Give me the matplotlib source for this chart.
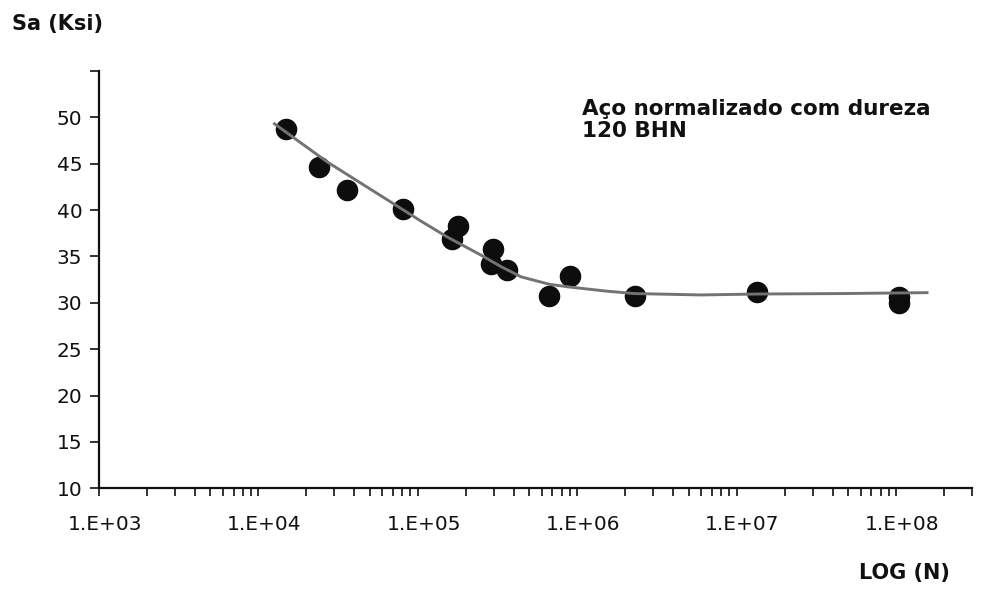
import numpy as np
import matplotlib
matplotlib.use('Agg')
import matplotlib.pyplot as plt
from matplotlib.ticker import LogLocator, FixedLocator, NullFormatter
from matplotlib.transforms import ScaledTranslation


# test points (cycles to failure, stress amplitude in ksi)
cycles = [1.49e4, 2.39e4, 3.6e4, 8.1e4, 1.63e5, 1.80e5, 2.88e5, 2.98e5,
          3.63e5, 6.7e5, 9.0e5, 2.29e6, 1.34e7, 1.04e8, 1.04e8]
sa = [48.7, 44.7, 42.15, 40.1, 36.9, 38.25, 34.2, 35.8,
      33.55, 30.75, 32.9, 30.75, 31.2, 30.6, 29.95]

# trend line
curve_n = [1.24e4, 2.7e4, 6.45e4, 1.05e5, 1.53e5, 2.49e5, 3.33e5, 4.45e5,
           6.7e5, 9.0e5, 1.55e6, 2.29e6, 6.0e6, 1.35e7, 4.6e7, 1.6e8]
curve_sa = [49.4, 45.2, 41.1, 38.8, 37.1, 35.15, 33.9, 32.8,
            32.0, 31.7, 31.25, 31.0, 30.85, 30.95, 31.0, 31.1]

x_ticks = [1e3, 1e4, 1e5, 1e6, 1e7, 1e8]
x_labels = ['1.E+03', '1.E+04', '1.E+05', '1.E+06', '1.E+07', '1.E+08']
y_ticks = [10, 15, 20, 25, 30, 35, 40, 45, 50, 55]
y_labels = ['10', '15', '20', '25', '30', '35', '40', '45', '50', '']

ink = '#111111'

fig = plt.figure(figsize=(9.87, 5.89), dpi=100)
ax = fig.add_axes([99/987, 1 - 488.3/589, 873/987, 417.3/589])

ax.plot(cycles, sa, 'o', color='#0d0d0d', markersize=14.5, zorder=2)
ax.plot(curve_n, curve_sa, '-', color='#737373', lw=2.1, zorder=3,
        solid_capstyle='butt')

ax.set_xscale('log')
ax.set_xlim(1e3, 3e8)
ax.set_ylim(10, 55)

for s in ['top', 'right']:
    ax.spines[s].set_visible(False)
for s in ['left', 'bottom']:
    ax.spines[s].set_linewidth(1.6)
    ax.spines[s].set_color(ink)

ax.xaxis.set_major_locator(FixedLocator(x_ticks))
ax.set_xticklabels(x_labels)
ax.xaxis.set_minor_locator(LogLocator(base=10, subs=np.arange(2, 10), numticks=50))
ax.xaxis.set_minor_formatter(NullFormatter())
ax.set_yticks(y_ticks)
ax.set_yticklabels(y_labels)

ax.tick_params(axis='x', which='both', direction='out', length=6, width=1.2,
               color=ink, pad=13, labelsize=14.5, labelcolor=ink)
ax.tick_params(axis='y', which='major', direction='out', length=6.5, width=1.2,
               color=ink, pad=5.5, labelsize=14.5, labelcolor=ink)

# labels sit a little right of their ticks in the original
shift = ScaledTranslation(6/100, 0, fig.dpi_scale_trans)
for lbl in ax.get_xticklabels():
    lbl.set_transform(lbl.get_transform() + shift)

fig.text(12/987, 1 - 24/589, 'Sa (Ksi)', fontsize=15, fontweight='bold',
         color=ink, ha='left', va='center')
fig.text(950/987, 1 - 573/589, 'LOG (N)', fontsize=15, fontweight='bold',
         color=ink, ha='right', va='center')
fig.text(582/987, 1 - 137/589, 'Aço normalizado com dureza\n120 BHN',
         fontsize=15.5, fontweight='bold', color=ink, ha='left', va='baseline',
         linespacing=1.15)

fig.savefig('out.png', dpi=100, facecolor='white')
